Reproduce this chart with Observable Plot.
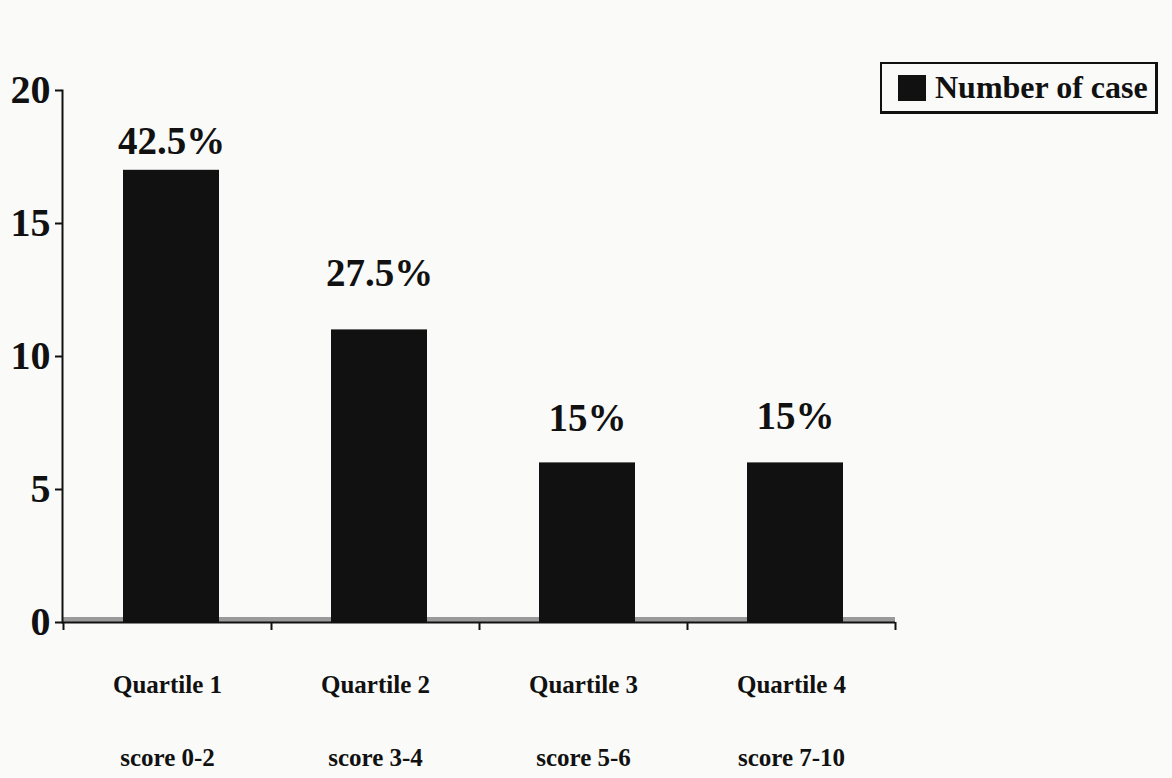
<!DOCTYPE html>
<html><head><meta charset="utf-8">
<script src="https://cdn.jsdelivr.net/npm/d3@7"></script>
<script src="https://cdn.jsdelivr.net/npm/@observablehq/plot@0.6"></script>
<style>
body{margin:0;background:#fafaf8;}
#wrap{position:relative;width:1172px;height:778px;overflow:hidden;}
#legend{position:absolute;left:880px;top:62px;width:278px;height:52px;box-sizing:border-box;border:2px solid #111;border-right-width:3px;border-bottom-width:3px;background:#fafaf8;font:bold 32px "Liberation Serif",serif;color:#111;display:flex;align-items:center;white-space:nowrap;}
#legend .sw{width:28px;height:26px;background:#111;margin:0 9px 0 16px;flex:none;}
</style></head>
<body><div id="wrap"><div id="legend"><span class="sw"></span><span>Number of case</span></div></div>
<script>
const quartiles = ["Quartile 1", "Quartile 2", "Quartile 3", "Quartile 4"];
const scores = ["score 0-2", "score 3-4", "score 5-6", "score 7-10"];
const cases = [17, 11, 6, 6];
const percents = ["42.5%", "27.5%", "15%", "15%"];
const yTicks = [0, 5, 10, 15, 20];
const seriesName = "Number of case";

const data = quartiles.map((q, i) => ({q, score: scores[i], n: cases[i], pct: percents[i]}));
const last = [data[data.length - 1]];
const pctStyle = {x: "q", y: "n", text: "pct", dx: 4, lineAnchor: "bottom", fontSize: 39, fontWeight: "bold", fill: "#111"};

const chart = Plot.plot({
  width: 1172, height: 778,
  marginTop: 90, marginBottom: 156, marginLeft: 62, marginRight: 277,
  style: {fontFamily: "'Liberation Serif', serif", background: "transparent", color: "#111"},
  x: {domain: quartiles, paddingInner: 0.54, paddingOuter: 0.27, axis: null},
  y: {domain: [0, 20], axis: null},
  marks: [
    Plot.ruleY([0], {stroke: "#9a9a9a", strokeWidth: 5, dy: -3}),
    Plot.barY(data, {x: "q", y: "n", fill: "#111", dx: 4}),
    Plot.ruleY([0], {stroke: "#111", strokeWidth: 2}),
    Plot.frame({anchor: "left", stroke: "#111", strokeWidth: 2}),
    Plot.axisY({ticks: yTicks, tickSize: 7, tickPadding: 5, fontSize: 40, fontWeight: "bold", label: null, strokeWidth: 2}),
    Plot.ruleX(data, {x: "q", y1: 0, y2: -0.3, dx: -104, stroke: "#111", strokeWidth: 2}),
    Plot.ruleX(last, {x: "q", y1: 0, y2: -0.3, dx: 104, stroke: "#111", strokeWidth: 2}),
    Plot.text([data[0]], {...pctStyle, dy: -16}),
    Plot.text([data[1]], {...pctStyle, dy: -44}),
    Plot.text([data[2]], {...pctStyle, dy: -32}),
    Plot.text([data[3]], {...pctStyle, dy: -34}),
    Plot.text(data, {x: "q", text: "q", frameAnchor: "bottom", dy: 70, fontSize: 25, fontWeight: "bold", fill: "#111"}),
    Plot.text(data, {x: "q", text: "score", frameAnchor: "bottom", dy: 143, fontSize: 25, fontWeight: "bold", fill: "#111"})
  ]
});
chart.style.position = "absolute";
chart.style.left = "0";
chart.style.top = "0";
document.getElementById("wrap").prepend(chart);
</script>
</body></html>
